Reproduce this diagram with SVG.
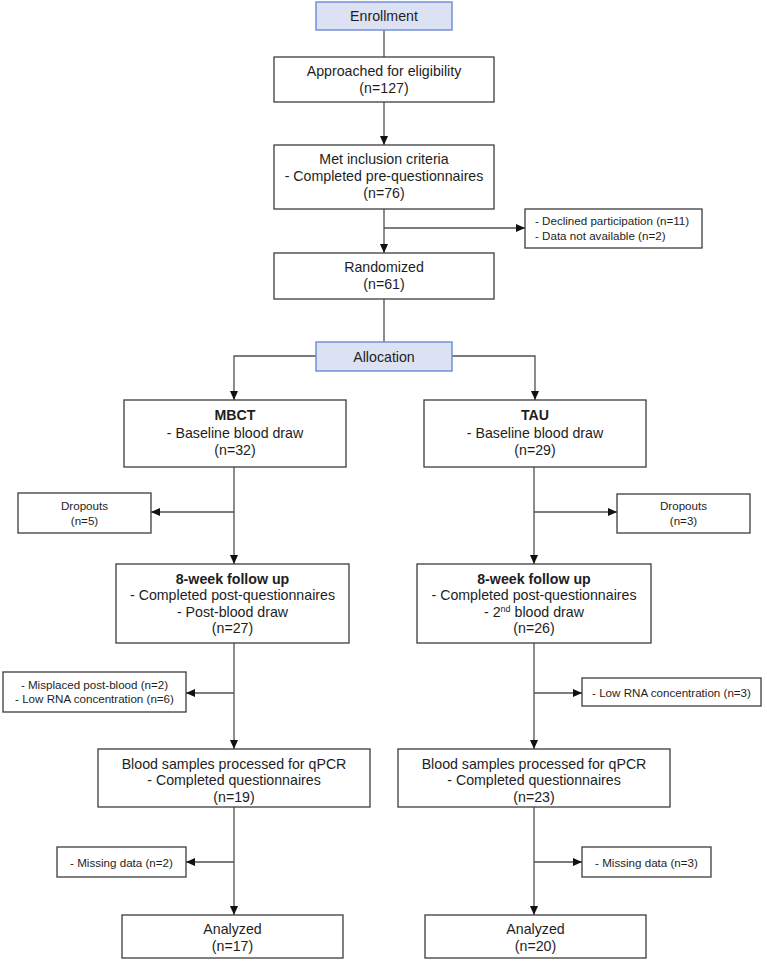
<svg xmlns="http://www.w3.org/2000/svg" width="767" height="961" viewBox="0 0 767 961">
<style>
.box{fill:#fff;stroke:#3c3c3c;stroke-width:1.3}
.hdr{fill:#dce2f4;stroke:#7391d8;stroke-width:1.5}
.t{font-family:"Liberation Sans",Arial,sans-serif;font-size:14.2px;fill:#1e1e1e;text-anchor:middle}
.s{font-family:"Liberation Sans",Arial,sans-serif;font-size:11.6px;fill:#1e1e1e;text-anchor:middle}
.sl{font-family:"Liberation Sans",Arial,sans-serif;font-size:11.6px;fill:#1e1e1e;text-anchor:start}
.b{font-weight:bold}
.c{fill:none;stroke:#505050;stroke-width:1.3}
.a{marker-end:url(#arr)}
</style>
<defs>
<marker id="arr" markerUnits="userSpaceOnUse" markerWidth="9" markerHeight="8" refX="9" refY="4" orient="auto">
<path d="M0,0 L9,4 L0,8 z" fill="#111"/>
</marker>
</defs>
<rect width="767" height="961" fill="#fff"/>
<g id="connectors">
<path class="c" d="M384,30 V57"/>
<path class="c a" d="M384,102 V145"/>
<path class="c a" d="M384,209 V253"/>
<path class="c a" d="M384,228 H525"/>
<path class="c" d="M384,299 V342"/>
<path class="c a" d="M316,356 H234 V400"/>
<path class="c a" d="M452,356 H535 V400"/>
<path class="c a" d="M234,467 V564"/>
<path class="c a" d="M234,512 H151"/>
<path class="c a" d="M534,467 V564"/>
<path class="c a" d="M534,512 H617"/>
<path class="c a" d="M234,643 V749"/>
<path class="c a" d="M234,693 H186"/>
<path class="c a" d="M534,643 V749"/>
<path class="c a" d="M534,693 H582"/>
<path class="c a" d="M234,807 V915"/>
<path class="c a" d="M234,862 H186"/>
<path class="c a" d="M534,807 V915"/>
<path class="c a" d="M534,862 H582"/>
</g>
<g id="enrollment">
<rect class="hdr" x="316" y="2" width="136" height="28"/>
<text class="t" x="384" y="21">Enrollment</text>
</g>
<g id="approached">
<rect class="box" x="274" y="57" width="220" height="45"/>
<text class="t" x="384" y="76">Approached for eligibility</text>
<text class="t" x="384" y="93">(n=127)</text>
</g>
<g id="inclusion">
<rect class="box" x="274" y="145" width="220" height="64"/>
<text class="t" x="384" y="164">Met inclusion criteria</text>
<text class="t" x="384" y="181">- Completed pre-questionnaires</text>
<text class="t" x="384" y="197.5">(n=76)</text>
</g>
<g id="excluded">
<rect class="box" x="525" y="209" width="177" height="39"/>
<text class="sl" x="535" y="225">- Declined participation (n=11)</text>
<text class="sl" x="535" y="239.5">- Data not available (n=2)</text>
</g>
<g id="randomized">
<rect class="box" x="274" y="253" width="220" height="46"/>
<text class="t" x="384" y="271.5">Randomized</text>
<text class="t" x="384" y="289">(n=61)</text>
</g>
<g id="allocation">
<rect class="hdr" x="316" y="342" width="136" height="29"/>
<text class="t" x="384" y="361.5">Allocation</text>
</g>
<g id="mbct">
<rect class="box" x="124" y="400" width="222" height="67"/>
<text class="t b" x="235" y="419.5">MBCT</text>
<text class="t" x="235" y="437.5">- Baseline blood draw</text>
<text class="t" x="235" y="455">(n=32)</text>
</g>
<g id="tau">
<rect class="box" x="424" y="400" width="222" height="67"/>
<text class="t b" x="535" y="419.5">TAU</text>
<text class="t" x="535" y="437.5">- Baseline blood draw</text>
<text class="t" x="535" y="455">(n=29)</text>
</g>
<g id="dropouts-mbct">
<rect class="box" x="18" y="493" width="133" height="40"/>
<text class="s" x="84.5" y="510">Dropouts</text>
<text class="s" x="84.5" y="525">(n=5)</text>
</g>
<g id="dropouts-tau">
<rect class="box" x="617" y="494" width="133" height="39"/>
<text class="s" x="683.5" y="510">Dropouts</text>
<text class="s" x="683.5" y="525">(n=3)</text>
</g>
<g id="followup-mbct">
<rect class="box" x="116" y="564" width="233" height="79"/>
<text class="t b" x="232.5" y="584">8-week follow up</text>
<text class="t" x="232.5" y="600">- Completed post-questionnaires</text>
<text class="t" x="232.5" y="616.5">- Post-blood draw</text>
<text class="t" x="232.5" y="633">(n=27)</text>
</g>
<g id="followup-tau">
<rect class="box" x="417" y="564" width="234" height="79"/>
<text class="t b" x="534" y="584">8-week follow up</text>
<text class="t" x="534" y="600">- Completed post-questionnaires</text>
<text class="t" x="534" y="616.5">- 2<tspan font-size="9px" dy="-5">nd</tspan><tspan dy="5"> blood draw</tspan></text>
<text class="t" x="534" y="633">(n=26)</text>
</g>
<g id="lost-mbct">
<rect class="box" x="3" y="672" width="183" height="40"/>
<text class="s" x="94.5" y="689">- Misplaced post-blood (n=2)</text>
<text class="s" x="94.5" y="703">- Low RNA concentration (n=6)</text>
</g>
<g id="lost-tau">
<rect class="box" x="582" y="678" width="179" height="28"/>
<text class="s" x="671.5" y="697">- Low RNA concentration (n=3)</text>
</g>
<g id="qpcr-mbct">
<rect class="box" x="98" y="749" width="272" height="58"/>
<text class="t" x="234" y="768.5">Blood samples processed for qPCR</text>
<text class="t" x="234" y="785">- Completed questionnaires</text>
<text class="t" x="234" y="801.5">(n=19)</text>
</g>
<g id="qpcr-tau">
<rect class="box" x="398" y="749" width="272" height="58"/>
<text class="t" x="534" y="768.5">Blood samples processed for qPCR</text>
<text class="t" x="534" y="785">- Completed questionnaires</text>
<text class="t" x="534" y="801.5">(n=23)</text>
</g>
<g id="missing-mbct">
<rect class="box" x="57" y="847" width="129" height="30"/>
<text class="s" x="121.5" y="866.5">- Missing data (n=2)</text>
</g>
<g id="missing-tau">
<rect class="box" x="582" y="847" width="129" height="30"/>
<text class="s" x="646.5" y="866.5">- Missing data (n=3)</text>
</g>
<g id="analyzed-mbct">
<rect class="box" x="122" y="915" width="221" height="43"/>
<text class="t" x="232.5" y="933.5">Analyzed</text>
<text class="t" x="232.5" y="951">(n=17)</text>
</g>
<g id="analyzed-tau">
<rect class="box" x="425" y="915" width="221" height="43"/>
<text class="t" x="535.5" y="933.5">Analyzed</text>
<text class="t" x="535.5" y="951">(n=20)</text>
</g>
</svg>
